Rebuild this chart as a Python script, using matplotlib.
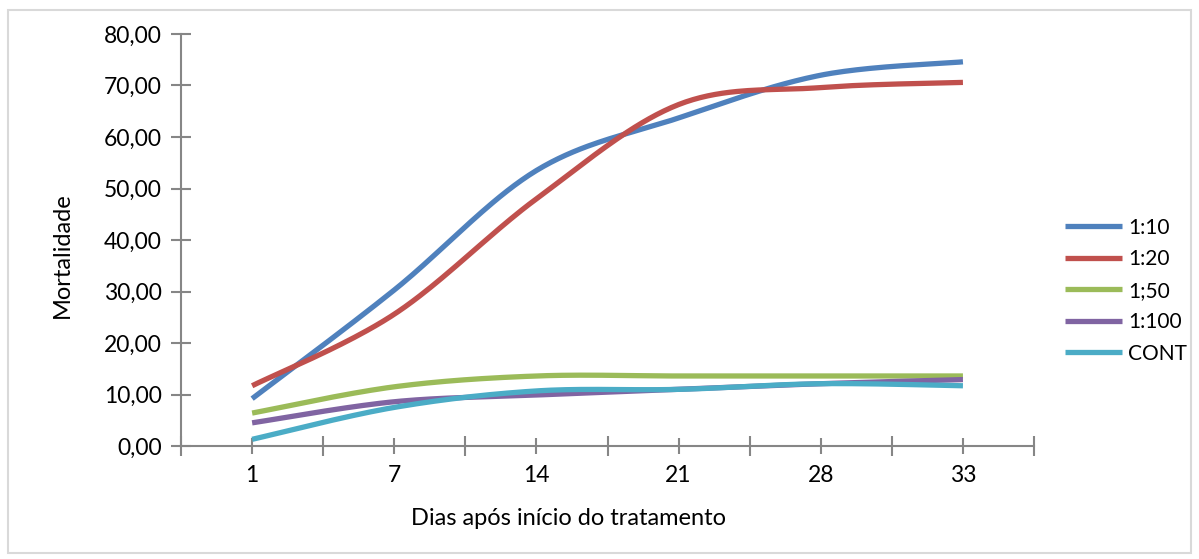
import numpy as np
import matplotlib
matplotlib.use("Agg")
import matplotlib.pyplot as plt
from matplotlib.patches import Rectangle
from matplotlib.ticker import FuncFormatter

plt.rcParams["font.family"] = ["Lato", "DejaVu Sans"]

# dias de avaliação (eixo de categorias)
dias = ["1", "7", "14", "21", "28", "33"]

# mortalidade por diluição
d_1_10 = [9.2, 30.3, 53.5, 63.7, 72.0, 74.6]
d_1_20 = [11.7, 25.6, 48.0, 66.3, 69.6, 70.6]
d_1_50 = [6.4, 11.5, 13.6, 13.6, 13.6, 13.6]
d_1_100 = [4.5, 8.6, 9.9, 11.0, 12.1, 12.9]
controle = [1.3, 7.5, 10.7, 11.0, 12.1, 11.7]

series = [
    ("1:10", d_1_10, "#4F81BD"),
    ("1:20", d_1_20, "#C0504D"),
    ("1;50", d_1_50, "#9BBB59"),
    ("1:100", d_1_100, "#8064A2"),
    ("CONT", controle, "#4BACC6"),
]


def suaviza(x, y, n=40):
    # curva de Bezier cúbica passando pelos pontos (linha suavizada estilo Excel)
    pts = np.column_stack([x, y]).astype(float)
    P = np.vstack([pts[0], pts, pts[-1]])
    t = np.linspace(0, 1, n)[:, None]
    out = []
    for i in range(1, len(P) - 2):
        p0, p1, p2, p3 = P[i - 1], P[i], P[i + 1], P[i + 2]
        c1 = p1 + (p2 - p0) / 6
        c2 = p2 - (p3 - p1) / 6
        b = (1 - t) ** 3 * p1 + 3 * (1 - t) ** 2 * t * c1 + 3 * (1 - t) * t ** 2 * c2 + t ** 3 * p2
        out.append(b if i == 1 else b[1:])
    out = np.vstack(out)
    return out[:, 0], out[:, 1]


fig = plt.figure(figsize=(11.99, 5.59), dpi=100)
ax = fig.add_axes([0.151, 0.2021, 0.7114, 0.7371])

x = np.arange(len(dias))
for nome, vals, cor in series:
    xs, ys = suaviza(x, vals)
    ax.plot(xs, ys, color=cor, lw=3.8, solid_capstyle="butt", label=nome)

ax.set_xlim(-0.5, len(dias) - 0.5)
ax.set_ylim(0, 80)
ax.set_yticks(np.arange(0, 81, 10))
ax.yaxis.set_major_formatter(FuncFormatter(lambda v, p: f"{v:.2f}".replace(".", ",")))

ax.set_xticks(np.arange(-0.5, len(dias), 1.0))
ax.set_xticklabels([])
ax.set_xticks(x, minor=True)
ax.set_xticklabels(dias, minor=True)

grey = "#868686"
for s in ["top", "right"]:
    ax.spines[s].set_visible(False)
for s in ["left", "bottom"]:
    ax.spines[s].set_color(grey)
    ax.spines[s].set_linewidth(1.5)

ax.tick_params(axis="y", which="major", direction="inout", length=14, width=1.5,
               color=grey, labelsize=16.5, pad=7)
ax.tick_params(axis="x", which="major", direction="inout", length=15, width=1.5, color=grey)
ax.tick_params(axis="x", which="minor", direction="inout", length=12, width=1.5,
               color=grey, labelsize=16.5, pad=8)

ax.set_ylabel("Mortalidade", fontsize=17)
ax.set_xlabel("Dias após início do tratamento", fontsize=17)
ax.yaxis.set_label_coords(-0.1395, 0.4636)
ax.xaxis.set_label_coords(0.4537, -0.1748)
ax.yaxis.label.set_va("center")
ax.xaxis.label.set_va("center")

ax.legend(loc="center left", bbox_to_anchor=(0.888, 0.48), bbox_transform=fig.transFigure,
          frameon=False, fontsize=15, handlelength=2.75, handletextpad=0.3,
          labelspacing=0.55, borderpad=0, borderaxespad=0)

fig.patches.append(Rectangle((8 / 1199, 6 / 559), 1183 / 1199, 543 / 559,
                             transform=fig.transFigure, fill=False,
                             edgecolor="#D9D9D9", lw=1.5))

fig.savefig("out.png", dpi=100)
